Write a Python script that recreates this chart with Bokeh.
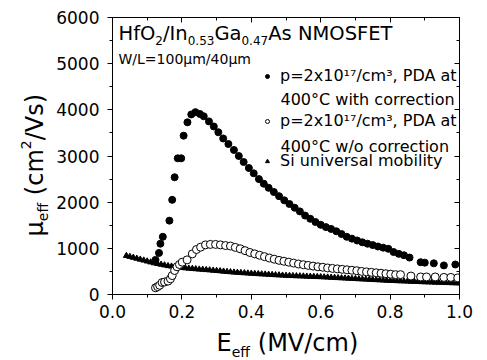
import math
from bokeh.plotting import figure
from bokeh.layouts import row, column
from bokeh.models import Range1d, LinearAxis, Label, Legend, LegendItem, FixedTicker
from bokeh.embed import file_html
from bokeh.resources import INLINE

# ---------------- data ----------------
e_corr = [0.124, 0.134, 0.138, 0.145, 0.164, 0.172, 0.179, 0.188, 0.198, 0.205,
          0.216, 0.227, 0.239, 0.252, 0.263, 0.278, 0.292, 0.305, 0.319, 0.334,
          0.350, 0.364, 0.378, 0.393, 0.407, 0.422, 0.436, 0.450, 0.465, 0.480,
          0.495, 0.510, 0.525, 0.540, 0.555, 0.570, 0.585, 0.600, 0.615, 0.630,
          0.645, 0.660, 0.675, 0.690, 0.705, 0.720, 0.735, 0.750, 0.765, 0.780,
          0.795, 0.810, 0.825, 0.840, 0.856, 0.888, 0.900, 0.926, 0.955, 0.988]
mu_corr = [750, 900, 1100, 1250, 1600, 2050, 2540, 2950, 2950, 3440,
           3730, 3900, 3950, 3910, 3860, 3750, 3640, 3515, 3380, 3260,
           3130, 3000, 2870, 2740, 2625, 2500, 2400, 2310, 2220, 2130,
           2040, 1960, 1880, 1800, 1710, 1640, 1570, 1510, 1460, 1420,
           1370, 1310, 1250, 1210, 1170, 1130, 1100, 1070, 1040, 1015,
           990, 920, 880, 850, 800, 700, 690, 675, 630, 650]

e_raw = [0.124, 0.130, 0.136, 0.143, 0.150, 0.160, 0.167, 0.172, 0.179, 0.186,
         0.193, 0.201, 0.215, 0.230, 0.242, 0.254, 0.268, 0.282, 0.297, 0.311,
         0.326, 0.340, 0.354, 0.368, 0.382, 0.396, 0.410, 0.424, 0.438, 0.452,
         0.466, 0.480, 0.494, 0.508, 0.522, 0.536, 0.550, 0.564, 0.578, 0.592,
         0.606, 0.620, 0.634, 0.648, 0.662, 0.676, 0.690, 0.704, 0.718, 0.732,
         0.746, 0.760, 0.774, 0.788, 0.802, 0.816, 0.830, 0.860, 0.888, 0.905,
         0.930, 0.955, 0.975, 0.995]
mu_raw = [145, 170, 200, 260, 270, 290, 340, 410, 520, 600,
          650, 700, 750, 880, 975, 1025, 1075, 1085, 1085, 1075,
          1060, 1050, 1020, 990, 950, 910, 880, 850, 820, 790,
          765, 740, 720, 700, 680, 660, 645, 630, 615, 600,
          590, 575, 565, 555, 545, 535, 525, 515, 500, 490,
          480, 470, 460, 450, 440, 430, 430, 400, 380, 380,
          380, 370, 370, 360]

e_si = [0.04, 0.05, 0.06, 0.07, 0.08, 0.09, 0.10, 0.11, 0.12, 0.13,
        0.14, 0.15, 0.16, 0.17, 0.18, 0.19, 0.20, 0.21, 0.22, 0.23,
        0.24, 0.25, 0.26, 0.27, 0.28, 0.29, 0.30, 0.31, 0.32, 0.33,
        0.34, 0.35, 0.36, 0.37, 0.38, 0.39, 0.40, 0.41, 0.42, 0.43,
        0.44, 0.45, 0.46, 0.47, 0.48, 0.49, 0.50, 0.51, 0.52, 0.53,
        0.54, 0.55, 0.56, 0.57, 0.58, 0.59, 0.60, 0.61, 0.62, 0.63,
        0.64, 0.65, 0.66, 0.67, 0.68, 0.69, 0.70, 0.71, 0.72, 0.73,
        0.74, 0.75, 0.76, 0.77, 0.78, 0.79, 0.80, 0.81, 0.82, 0.83,
        0.84, 0.85, 0.86, 0.87, 0.88, 0.89, 0.90, 0.91, 0.92, 0.93,
        0.94, 0.95, 0.96, 0.97, 0.98, 0.99, 1.00]
mu_si = [840, 820, 800, 780, 760, 740, 720, 700, 680, 665,
         650, 635, 620, 610, 600, 590, 580, 572, 565, 558,
         552, 545, 540, 534, 528, 521, 515, 508, 500, 494,
         487, 480, 475, 470, 465, 460, 455, 450, 446, 441,
         437, 432, 428, 423, 419, 414, 410, 407, 404, 401,
         398, 395, 392, 389, 386, 383, 380, 376, 372, 368,
         364, 360, 356, 352, 348, 344, 340, 336, 332, 328,
         324, 320, 316, 312, 308, 304, 300, 297, 294, 291,
         288, 285, 282, 279, 276, 273, 270, 267, 265, 262,
         260, 257, 255, 252, 250, 247, 245]

x_ticks = [0.0, 0.2, 0.4, 0.6, 0.8, 1.0]
x_minor = [0.1, 0.3, 0.5, 0.7, 0.9]
y_ticks = [0, 1000, 2000, 3000, 4000, 5000, 6000]
y_minor = [500, 1500, 2500, 3500, 4500, 5500]

legend_line1 = "p=2x10\u00b9\u2077/cm\u00b3, PDA at"
legend_corr2 = "400\u00b0C with correction"
legend_raw2 = "400\u00b0C w/o correction"
legend_si = "Si universal mobility"

FONT = "DejaVu Sans"

# character advance widths of DejaVu Sans (em units) for composing sub/superscripts
W = {" ": .318, "H": .752, "f": .352, "O": .787, "/": .337, "I": .295, "n": .634,
     "G": .775, "a": .613, "A": .684, "s": .521, "N": .748, "M": .863, "S": .635,
     "F": .575, "E": .632, "T": .611, ".": .318, "e": .615, "(": .390, ")": .390,
     "V": .684, "c": .550, "m": .974, "\u03bc": .636, "W": .989, "L": .557, "=": .838}
for d in "0123456789":
    W[d] = .636


def text_width(s, size):
    return sum(W.get(ch, .6) for ch in s) * size


def rich(fig, pieces, x0, y0, angle=0.0):
    """pieces: (text, size_px, rise_px); x0, y0 = start / vertical centre,
    in frame screen units (y up)."""
    adv = 0.0
    ca, sa = math.cos(angle), math.sin(angle)
    for txt, size, rise in pieces:
        lead = len(txt) - len(txt.lstrip(" "))
        adv += lead * W[" "] * size
        txt = txt.lstrip(" ")
        x = x0 + adv * ca - rise * sa
        y = y0 + adv * sa + rise * ca
        fig.add_layout(Label(x=x, y=y, x_units="screen", y_units="screen", text=txt,
                             angle=angle, text_font=FONT, text_font_size=f"{size}px",
                             text_color="black", text_baseline="middle",
                             text_align="left"))
        adv += text_width(txt, size)


def blank_fig(w, h):
    f = figure(width=w, height=h, output_backend="svg", toolbar_location=None,
               x_range=Range1d(0, 1), y_range=Range1d(0, 1),
               min_border=0, x_axis_location=None, y_axis_location=None)
    f.xgrid.visible = False
    f.ygrid.visible = False
    f.outline_line_color = None
    f.background_fill_color = "white"
    f.border_fill_color = "white"
    return f


# ---------------- main figure ----------------
p = figure(width=437, height=326, output_backend="svg", toolbar_location=None,
           x_range=Range1d(0, 1.0), y_range=Range1d(0, 6000),
           min_border_left=62, min_border_right=28, min_border_top=17,
           min_border_bottom=32, x_axis_location=None, y_axis_location=None)
p.xgrid.visible = False
p.ygrid.visible = False
p.outline_line_color = "black"
p.outline_line_width = 1
p.background_fill_color = "white"
p.border_fill_color = "white"


def style_axis(ax, labels=True, out=True):
    ax.axis_line_color = "black"
    ax.major_tick_line_color = "black"
    ax.minor_tick_line_color = "black"
    ax.major_tick_out = 5 if out else 0
    ax.major_tick_in = 0 if out else 5
    ax.minor_tick_out = 3 if out else 0
    ax.minor_tick_in = 0 if out else 3
    ax.major_label_text_font = FONT
    ax.major_label_text_color = "black"
    if labels:
        ax.major_label_text_font_size = "17px"
    else:
        ax.major_label_text_font_size = "0px"
        ax.major_label_text_alpha = 0
        ax.major_label_standoff = 0


xb = LinearAxis(ticker=FixedTicker(ticks=x_ticks, minor_ticks=x_minor), major_label_standoff=5)
style_axis(xb)
xb.major_label_overrides = {0: "0.0", 1: "1.0"}
p.add_layout(xb, "below")

yl = LinearAxis(ticker=FixedTicker(ticks=y_ticks, minor_ticks=y_minor), major_label_standoff=8)
style_axis(yl)
p.add_layout(yl, "left")

xa = LinearAxis(ticker=FixedTicker(ticks=x_ticks, minor_ticks=x_minor))
style_axis(xa, labels=False, out=False)
p.add_layout(xa, "above")

yr = LinearAxis(ticker=FixedTicker(ticks=y_ticks, minor_ticks=y_minor))
style_axis(yr, labels=False, out=False)
p.add_layout(yr, "right")

# ---------------- data glyphs ----------------
r_si = p.scatter(e_si, mu_si, marker="triangle", size=6, color="black")
r_raw = p.scatter(e_raw, mu_raw, marker="circle", size=8, line_color="black",
                  fill_color="white", line_width=1)
r_corr = p.scatter(e_corr, mu_corr, marker="circle", size=7, color="black")


# ---------------- legend (one per entry to control placement) ----------------
def make_legend(label, renderer, y):
    lg = Legend(items=[LegendItem(label=label, renderers=[renderer])],
                location=(150, y), padding=0, margin=0, spacing=0,
                border_line_color=None, background_fill_alpha=0,
                glyph_width=10, glyph_height=16, label_height=16,
                label_standoff=8, label_text_font=FONT,
                label_text_font_size="16px", label_text_color="black")
    p.add_layout(lg, "center")


make_legend(legend_line1, r_corr, 209)
make_legend(legend_line1, r_raw, 164)
make_legend(legend_si, r_si, 124)

for txt, yy in [(legend_corr2, 195), (legend_raw2, 148)]:
    p.add_layout(Label(x=168, y=yy, x_units="screen", y_units="screen", text=txt,
                       text_font=FONT, text_font_size="16px", text_color="black",
                       text_baseline="middle", text_align="left"))

# title inside the plot
rich(p, [("HfO", 19.5, 0), ("2", 12, -6.5), ("/In", 19.5, 0), ("0.53", 12, -6.5),
         ("Ga", 19.5, 0), ("0.47", 12, -6.5), ("As NMOSFET", 19.5, 0)], 6, 261)
rich(p, [("W/L=100\u03bcm/40\u03bcm", 14, 0)], 6, 236)

# ---------------- axis titles (separate strips so nothing is clipped) ----------------
xlab = blank_fig(437, 34)
rich(xlab, [("E", 24, 0), ("eff", 14, -9), (" (MV/cm)", 24, 0)], 104, 18)

ylab = blank_fig(50, 360)
rich(ylab, [("\u03bc", 24, 0), ("eff", 14, -8), (" (cm", 24, 0), ("2", 14, 9),
            ("/Vs)", 24, 0)], 34, 124, angle=math.pi / 2)

layout = row(ylab, column(p, xlab, spacing=0), spacing=0)
open("out.html", "w").write(file_html(layout, INLINE))
